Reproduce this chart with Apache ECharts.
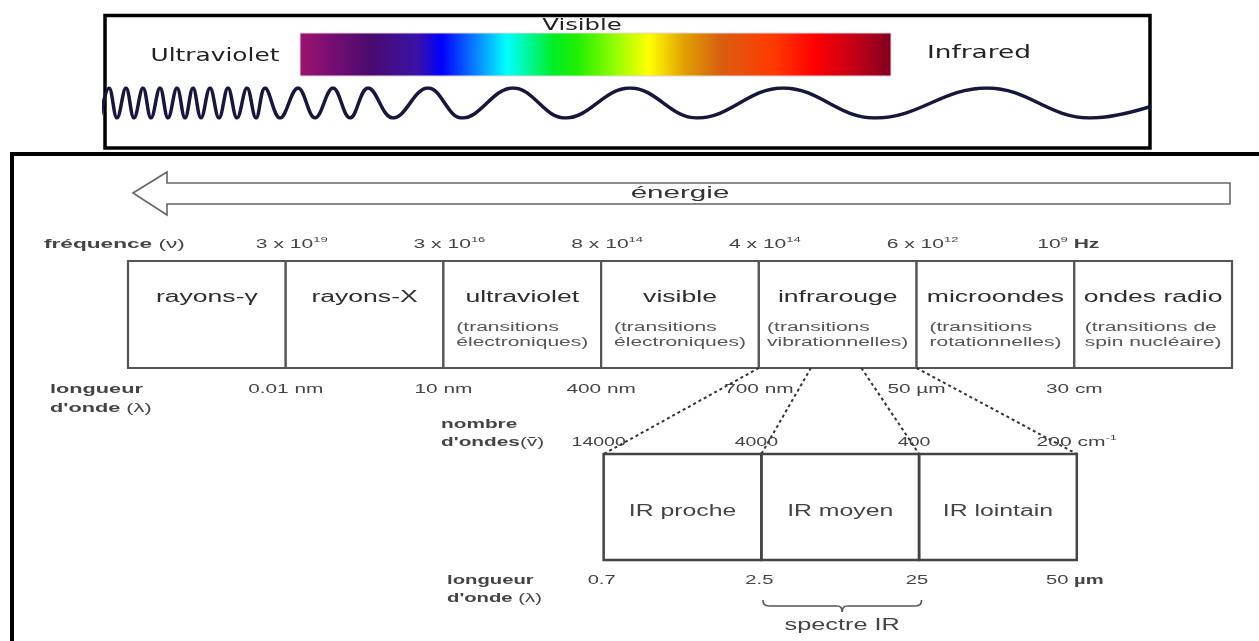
<!DOCTYPE html>
<html><head><meta charset="utf-8">
<script src="https://cdn.jsdelivr.net/npm/echarts@6/dist/echarts.min.js"></script>
<style>html,body{margin:0;padding:0;background:#fff}#c{width:1259px;height:641px}</style>
</head><body><div id="c"></div>
<script>
// ---------- data ----------
const bands = ['rayons-γ', 'rayons-X', 'ultraviolet', 'visible', 'infrarouge', 'microondes', 'ondes radio'];
const bandNotes = [[], [], ['(transitions', 'électroniques)'], ['(transitions', 'électroniques)'],
  ['(transitions', 'vibrationnelles)'], ['(transitions', 'rotationnelles)'], ['(transitions de', 'spin nucléaire)']];
const freqMantissa = ['3 x 10', '3 x 10', '8 x 10', '4 x 10', '6 x 10', '10'];
const freqExponent = ['19', '16', '14', '14', '12', '9'];
const freqUnit = 'Hz';
const wavelengthLabels = ['0.01 nm', '10 nm', '400 nm', '700 nm', '50 µm', '30 cm'];
const irBands = ['IR proche', 'IR moyen', 'IR lointain'];
const irWavenumbers = ['14000', '4000', '400', '200'];
const irWavenumberUnit = ['cm', '-1'];
const irWavelengths = ['0.7', '2.5', '25', '50'];
const irWavelengthUnit = 'µm';
const irSpectrumBand = 'IR moyen';
const irSpectrumLabel = 'spectre IR';
const linkFractions = [0, 0.33, 0.65, 1];
const waveCrests = [109, 126, 143, 160, 177, 193, 210, 228, 247, 265, 298, 333, 368, 428, 513, 630, 783, 987, 1200];
const waveTroughs = [100, 117, 134, 151, 168, 185, 201, 219, 237, 256, 280, 315, 350, 393, 462, 565, 697, 875, 1090];
const spectrumColors = ['#9c1470', '#7a0e72', '#4a0a6e', '#3a12a8', '#0000ff', '#0a70ff', '#00ffff', '#00ee22', '#20f000', '#a0ff00', '#ffff00', '#e0a000', '#d86010', '#ff3a00', '#ff0000', '#c00018', '#80001e'];
const spectrumStops = [0, 0.05, 0.12, 0.2, 0.24, 0.29, 0.35, 0.43, 0.47, 0.54, 0.59, 0.65, 0.71, 0.8, 0.87, 0.94, 1];

// ---------- layout ----------
const IR_COL = bands.indexOf('infrarouge') - 1;
const IR_SRC = bands.indexOf('infrarouge');
const ROW = {freq: 244, boxTop: 261, boxBot: 368, title: 298, note: 335, wl: 389, wl2: 408,
  wnName: 424, wn: 442, irTop: 454, irBot: 560, irTitle: 512, irWl: 580, irWl2: 598, brace: 600, spec: 626};
const SANS = '"Liberation Sans", Arial, sans-serif';
const DEJA = '"DejaVu Sans", Verdana, sans-serif';

function T(x, y, text, o) {
  o = o || {};
  return {
    type: 'text', x: x, y: y, scaleX: o.sx || 1.6, silent: true,
    style: {
      x: 0, y: 0, text: text, align: o.align || 'center', verticalAlign: o.va || 'middle',
      fontFamily: o.font || SANS, fontSize: o.size || 13, fontWeight: o.weight || 'normal',
      fill: o.color || '#444', rich: o.rich, lineHeight: o.lh
    }
  };
}
const supRich = function (size, color) {
  return {
    n: {fontSize: size, lineHeight: size + 3, fill: color, fontFamily: SANS},
    b: {fontSize: size, lineHeight: size + 3, fill: color, fontFamily: SANS, fontWeight: 'bold'},
    s: {fontSize: Math.round(size * 0.65), lineHeight: Math.round(size * 0.65), verticalAlign: 'top', fill: color, fontFamily: SANS}
  };
};

const chart = echarts.init(document.getElementById('c'), null, {renderer: 'canvas'});

const option = {
  animation: false,
  backgroundColor: '#fff',
  grid: [
    {left: 128, right: 27, top: 0, bottom: 0},
    {left: 130.5, right: 24.5, top: 0, bottom: 0},
    {left: 104, right: 111, top: 88, height: 30}
  ],
  xAxis: [
    {type: 'value', gridIndex: 0, min: 0, max: bands.length, show: false},
    {type: 'value', gridIndex: 1, min: 0, max: bands.length, show: false},
    {type: 'value', gridIndex: 2, min: 104, max: 1148, show: false}
  ],
  yAxis: [
    {type: 'value', gridIndex: 0, min: 0, max: 641, inverse: true, show: false},
    {type: 'value', gridIndex: 1, min: 0, max: 641, inverse: true, show: false},
    {type: 'value', gridIndex: 2, min: -1, max: 1, show: false}
  ],
  graphic: [
    {type: 'rect', shape: {x: 105, y: 15.5, width: 1045, height: 132.5}, style: {fill: 'none', stroke: '#000', lineWidth: 3.5}, silent: true},
    {type: 'polyline', shape: {points: [[12, 641], [12, 154], [1259, 154]]}, style: {fill: 'none', stroke: '#000', lineWidth: 4}, silent: true},
    {type: 'rect', shape: {x: 300, y: 33, width: 591, height: 43}, silent: true,
      style: {fill: new echarts.graphic.LinearGradient(0, 0, 1, 0, spectrumColors.map((c, i) => ({offset: spectrumStops[i], color: c}))), stroke: '#e6d6dc', lineWidth: 1}},
    T(582, 26, 'Visible', {font: DEJA, size: 16, color: '#222', sx: 1.52}),
    T(215, 57, 'Ultraviolet', {font: DEJA, size: 17, color: '#222', sx: 1.46}),
    T(979, 54, 'Infrared', {font: DEJA, size: 17, color: '#222', sx: 1.55}),
    {type: 'polygon', silent: true, shape: {points: [[133, 193], [167, 172], [167, 183], [1230, 183], [1230, 204], [167, 204], [167, 215]]},
      style: {fill: '#fff', stroke: '#666', lineWidth: 1.6}},
    T(680, 194, 'énergie', {size: 16, color: '#333', sx: 1.85}),
    T(44, 244, '{b|fréquence} {n|(ν)}', {align: 'left', rich: supRich(13, '#444'), sx: 1.74}),
    T(50, 389, '{b|longueur}', {align: 'left', rich: supRich(13, '#444'), sx: 1.67}),
    T(50, 408, '{b|d\'onde} {n|(λ)}', {align: 'left', rich: supRich(13, '#444'), sx: 1.67}),
    T(441, 424, '{b|nombre}', {align: 'left', rich: supRich(13, '#444'), sx: 1.6}),
    T(441, 442, '{b|d\'ondes}{n|(ṽ)}', {align: 'left', rich: supRich(13, '#444'), sx: 1.6}),
    T(447, 580, '{b|longueur}', {align: 'left', rich: supRich(13, '#444'), sx: 1.56}),
    T(447, 598, '{b|d\'onde} {n|(λ)}', {align: 'left', rich: supRich(13, '#444'), sx: 1.56})
  ],
  series: [
    {
      type: 'custom', xAxisIndex: 0, yAxisIndex: 0, clip: false, silent: true,
      data: bands.map((b, i) => [i, i + 1]),
      renderItem: function (params, api) {
        const i = params.dataIndex;
        const a = api.coord([api.value(0), ROW.boxTop]);
        const b = api.coord([api.value(1), ROW.boxBot]);
        const cx = (a[0] + b[0]) / 2;
        const ch = [
          {type: 'rect', shape: {x: a[0], y: a[1], width: b[0] - a[0], height: b[1] - a[1]}, style: {fill: '#fff', stroke: '#555', lineWidth: 2.2}},
          T(cx, ROW.title, bands[i], {size: 16, color: '#2e2e2e', sx: 1.66})
        ];
        const notes = bandNotes[i];
        if (notes.length) {
          ch.push(T(cx, ROW.note, notes.map(s => '{s|' + s + '}').join('\n'), {
            size: 12, color: '#555', sx: 1.75,
            rich: {s: {align: 'left', fontSize: 12, lineHeight: 15, fill: '#555', fontFamily: SANS}}
          }));
        }
        return {type: 'group', children: ch};
      }
    },
    {
      type: 'custom', xAxisIndex: 0, yAxisIndex: 0, clip: false, silent: true,
      data: freqMantissa.map((m, i) => [i + 1]),
      renderItem: function (params, api) {
        const i = params.dataIndex;
        const last = i === freqMantissa.length - 1;
        const p = api.coord([api.value(0), ROW.freq]);
        let t = '{n|' + freqMantissa[i] + '}{s|' + freqExponent[i] + '}';
        if (last) t += '{n| }{b|' + freqUnit + '}';
        return T(p[0] + (last ? -6 : 6), p[1], t, {rich: supRich(13, '#444'), sx: 1.62});
      }
    },
    {
      type: 'custom', xAxisIndex: 0, yAxisIndex: 0, clip: false, silent: true,
      data: wavelengthLabels.map((m, i) => [i + 1]),
      renderItem: function (params, api) {
        const p = api.coord([api.value(0), ROW.wl]);
        return T(p[0], p[1], wavelengthLabels[params.dataIndex], {size: 13, color: '#444', sx: 1.6});
      }
    },
    {
      type: 'custom', xAxisIndex: 0, yAxisIndex: 0, clip: false, silent: true,
      data: linkFractions.map((f, k) => [IR_SRC + f, IR_COL + k]),
      renderItem: function (params, api) {
        const a = api.coord([api.value(0), ROW.boxBot]);
        const b = api.coord([api.value(1), ROW.irTop]);
        return {type: 'line', shape: {x1: a[0], y1: a[1], x2: b[0] + 2.5, y2: b[1]},
          style: {stroke: '#333', lineWidth: 2, lineDash: [3, 3]}};
      }
    },
    {
      type: 'custom', xAxisIndex: 1, yAxisIndex: 1, clip: false, silent: true,
      data: irBands.map((b, i) => [IR_COL + i, IR_COL + i + 1]),
      renderItem: function (params, api) {
        const a = api.coord([api.value(0), ROW.irTop]);
        const b = api.coord([api.value(1), ROW.irBot]);
        return {type: 'group', children: [
          {type: 'rect', shape: {x: a[0], y: a[1], width: b[0] - a[0], height: b[1] - a[1]}, style: {fill: 'none', stroke: '#444', lineWidth: 2.5}},
          T((a[0] + b[0]) / 2, ROW.irTitle, irBands[params.dataIndex], {size: 16, color: '#444', sx: 1.55})
        ]};
      }
    },
    {
      type: 'custom', xAxisIndex: 1, yAxisIndex: 1, clip: false, silent: true,
      data: irWavenumbers.map((m, i) => [IR_COL + i]),
      renderItem: function (params, api) {
        const i = params.dataIndex;
        const last = i === irWavenumbers.length - 1;
        const p = api.coord([api.value(0), ROW.wn]);
        let t = '{n|' + irWavenumbers[i] + '}';
        if (last) t += '{n| ' + irWavenumberUnit[0] + '}{s|' + irWavenumberUnit[1] + '}';
        return T(p[0] - (last ? 0 : 5), p[1], t, {rich: supRich(13, '#444'), sx: last ? 1.62 : 1.5});
      }
    },
    {
      type: 'custom', xAxisIndex: 1, yAxisIndex: 1, clip: false, silent: true,
      data: irWavelengths.map((m, i) => [IR_COL + i]),
      renderItem: function (params, api) {
        const i = params.dataIndex;
        const last = i === irWavelengths.length - 1;
        const p = api.coord([api.value(0), ROW.irWl]);
        let t = '{n|' + irWavelengths[i] + '}';
        if (last) t += '{n| }{b|' + irWavelengthUnit + '}';
        return T(p[0] - 2, p[1], t, {rich: supRich(13, '#444'), sx: 1.55});
      }
    },
    {
      type: 'custom', xAxisIndex: 1, yAxisIndex: 1, clip: false, silent: true,
      data: [[IR_COL + irBands.indexOf(irSpectrumBand), IR_COL + irBands.indexOf(irSpectrumBand) + 1]],
      renderItem: function (params, api) {
        const a = api.coord([api.value(0), ROW.brace]);
        const b = api.coord([api.value(1), ROW.brace]);
        const x0 = a[0] + 1.5, x1 = b[0] + 2.5, y = a[1], cx = (x0 + x1) / 2;
        const st = {stroke: '#555', lineWidth: 1.6, fill: 'none'};
        return {type: 'group', children: [
          {type: 'bezierCurve', shape: {x1: x0, y1: y, cpx1: x0, cpy1: y + 6, x2: x0 + 6, y2: y + 6}, style: st},
          {type: 'line', shape: {x1: x0 + 6, y1: y + 6, x2: cx - 5, y2: y + 6}, style: st},
          {type: 'bezierCurve', shape: {x1: cx - 5, y1: y + 6, cpx1: cx, cpy1: y + 6, x2: cx, y2: y + 12}, style: st},
          {type: 'bezierCurve', shape: {x1: cx + 5, y1: y + 6, cpx1: cx, cpy1: y + 6, x2: cx, y2: y + 12}, style: st},
          {type: 'line', shape: {x1: cx + 5, y1: y + 6, x2: x1 - 6, y2: y + 6}, style: st},
          {type: 'bezierCurve', shape: {x1: x1 - 6, y1: y + 6, cpx1: x1, cpy1: y + 6, x2: x1, y2: y}, style: st},
          T(cx, ROW.spec, irSpectrumLabel, {size: 16, color: '#444', sx: 1.58})
        ]};
      }
    },
    {
      type: 'line', xAxisIndex: 2, yAxisIndex: 2, silent: true, symbol: 'none', smooth: 0.4,
      lineStyle: {color: '#16163f', width: 3.5},
      data: waveCrests.map(x => [x, 1]).concat(waveTroughs.map(x => [x, -1])).sort((p, q) => p[0] - q[0])
    }
  ]
};
chart.setOption(option);
</script>
</body></html>
